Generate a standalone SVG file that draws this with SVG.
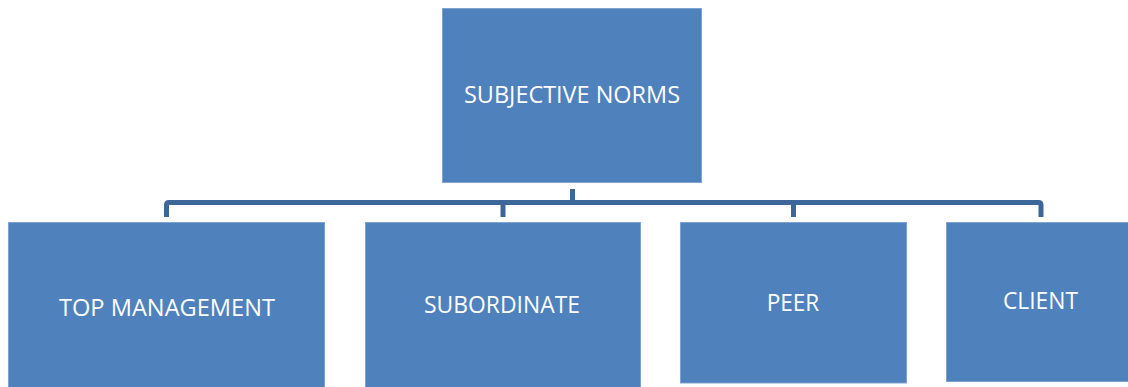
<svg xmlns="http://www.w3.org/2000/svg" width="1128" height="387" viewBox="0 0 1128 387">
<style>
.box{fill:#4F81BD;stroke:#7FA3D0;stroke-width:1}
.lbl{font-family:"Open Sans","Liberation Sans",sans-serif;font-size:23px;fill:#FFFFFF}
.conn{fill:none;stroke:#3D6699;stroke-width:5;stroke-linejoin:round;stroke-linecap:butt}
</style>
<rect width="1128" height="387" fill="#FFFFFF"/>
<g id="connectors">
<path class="conn" d="M572.5 189 V202.5"/>
<path class="conn" d="M166.5 217 V205 Q166.5 202.5 169 202.5 H1038.5 Q1041 202.5 1041 205 V217"/>
<path class="conn" d="M503 202.5 V217"/>
<path class="conn" d="M793.5 202.5 V217"/>
</g>
<g id="subjective-norms">
<rect class="box" x="442.5" y="8.5" width="259" height="174"/>
<text class="lbl" x="464" y="102.7" textLength="216" lengthAdjust="spacingAndGlyphs">SUBJECTIVE NORMS</text>
</g>
<g id="top-management">
<rect class="box" x="8.5" y="222.5" width="316" height="170"/>
<text class="lbl" x="59" y="315.7" textLength="216" lengthAdjust="spacingAndGlyphs">TOP MANAGEMENT</text>
</g>
<g id="subordinate">
<rect class="box" x="365.5" y="222.5" width="275" height="170"/>
<text class="lbl" x="424" y="312.7" textLength="156" lengthAdjust="spacingAndGlyphs">SUBORDINATE</text>
</g>
<g id="peer">
<rect class="box" x="680.5" y="222.5" width="226" height="160.5"/>
<text class="lbl" x="766.7" y="310.7" textLength="52.6" lengthAdjust="spacingAndGlyphs">PEER</text>
</g>
<g id="client">
<rect class="box" x="946.5" y="222.5" width="185" height="159"/>
<text class="lbl" x="1003" y="309" textLength="75" lengthAdjust="spacingAndGlyphs">CLIENT</text>
</g>
</svg>
